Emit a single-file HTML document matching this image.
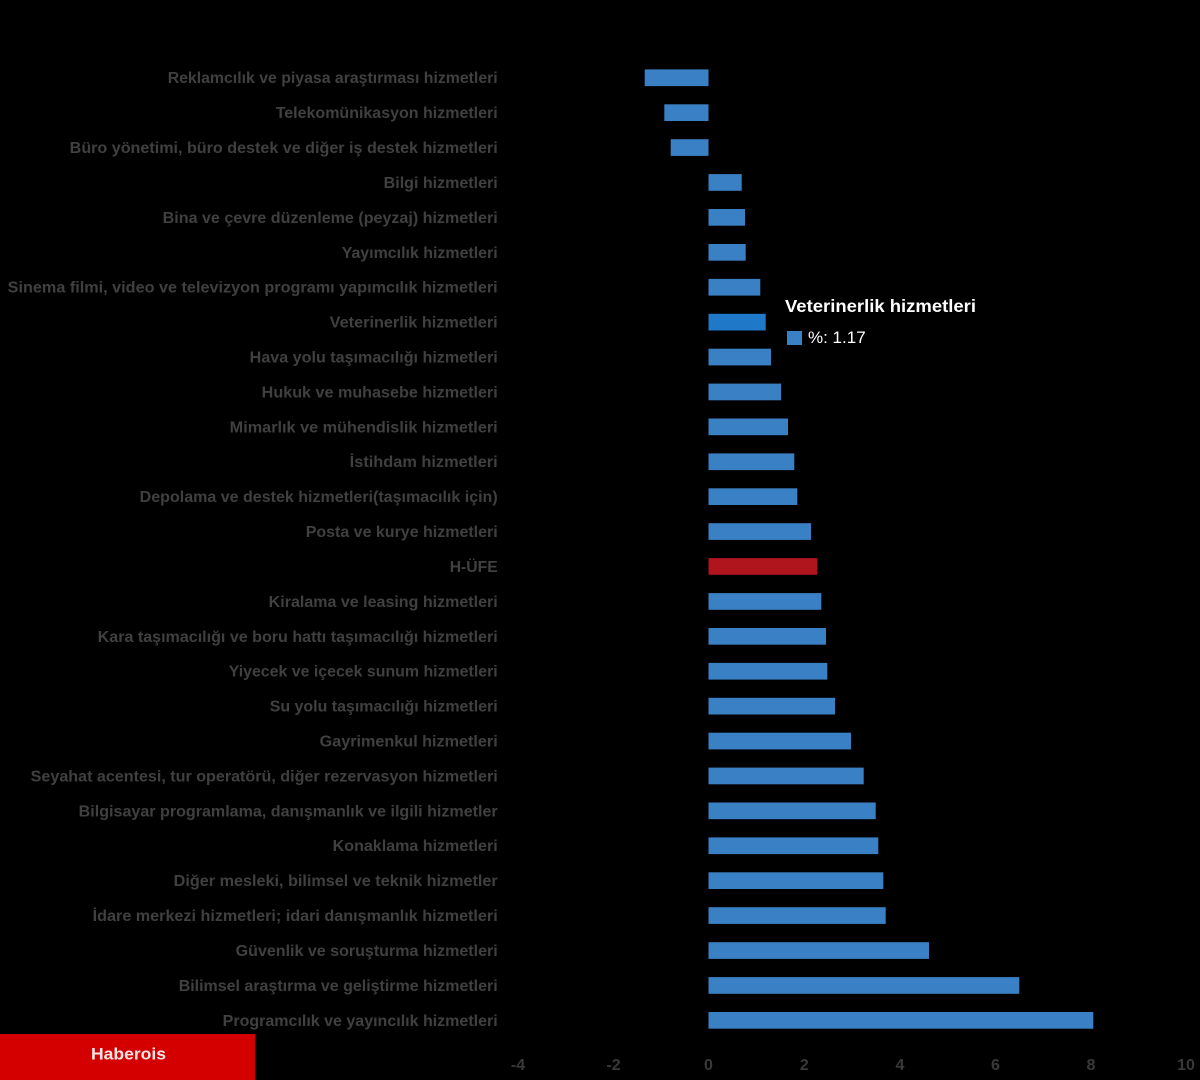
<!DOCTYPE html>
<html><head><meta charset="utf-8"><style>
html,body{margin:0;padding:0;background:#000;}
svg{display:block;}
.l{font-family:"Liberation Sans",sans-serif;font-weight:bold;font-size:16px;fill:#404040;}
.t{font-family:"Liberation Sans",sans-serif;font-weight:bold;font-size:16px;fill:#393939;}
</style></head><body>
<svg width="1200" height="1080" viewBox="0 0 1200 1080" xmlns="http://www.w3.org/2000/svg">
<rect width="1200" height="1080" fill="#000"/>
<g fill="#3a80c4">
<rect x="644.7" y="69.4" width="63.8" height="16.7"/>
<rect x="664.3" y="104.3" width="44.2" height="16.7"/>
<rect x="670.7" y="139.2" width="37.8" height="16.7"/>
<rect x="708.5" y="174.1" width="33.2" height="16.7"/>
<rect x="708.5" y="209.0" width="36.5" height="16.7"/>
<rect x="708.5" y="244.0" width="37.2" height="16.7"/>
<rect x="708.5" y="278.9" width="51.8" height="16.7"/>
<rect x="708.5" y="313.8" width="57.2" height="16.7" fill="#1f78c8"/>
<rect x="708.5" y="348.7" width="62.5" height="16.7"/>
<rect x="708.5" y="383.6" width="72.5" height="16.7"/>
<rect x="708.5" y="418.5" width="79.5" height="16.7"/>
<rect x="708.5" y="453.4" width="85.8" height="16.7"/>
<rect x="708.5" y="488.3" width="88.8" height="16.7"/>
<rect x="708.5" y="523.2" width="102.5" height="16.7"/>
<rect x="708.5" y="558.1" width="108.8" height="16.7" fill="#b0141c"/>
<rect x="708.5" y="593.1" width="112.8" height="16.7"/>
<rect x="708.5" y="628.0" width="117.5" height="16.7"/>
<rect x="708.5" y="662.9" width="118.8" height="16.7"/>
<rect x="708.5" y="697.8" width="126.5" height="16.7"/>
<rect x="708.5" y="732.7" width="142.5" height="16.7"/>
<rect x="708.5" y="767.6" width="155.2" height="16.7"/>
<rect x="708.5" y="802.5" width="167.2" height="16.7"/>
<rect x="708.5" y="837.4" width="169.8" height="16.7"/>
<rect x="708.5" y="872.3" width="174.8" height="16.7"/>
<rect x="708.5" y="907.2" width="177.2" height="16.7"/>
<rect x="708.5" y="942.2" width="220.5" height="16.7"/>
<rect x="708.5" y="977.1" width="310.8" height="16.7"/>
<rect x="708.5" y="1012.0" width="384.8" height="16.7"/>
</g>
<g class="l" text-anchor="end">
<text x="497.7" y="83.2" textLength="330" lengthAdjust="spacingAndGlyphs">Reklamcılık ve piyasa araştırması hizmetleri</text>
<text x="497.7" y="118.1" textLength="222" lengthAdjust="spacingAndGlyphs">Telekomünikasyon hizmetleri</text>
<text x="497.7" y="153.0" textLength="428" lengthAdjust="spacingAndGlyphs">Büro yönetimi, büro destek ve diğer iş destek hizmetleri</text>
<text x="497.7" y="187.9" textLength="114" lengthAdjust="spacingAndGlyphs">Bilgi hizmetleri</text>
<text x="497.7" y="222.8" textLength="335" lengthAdjust="spacingAndGlyphs">Bina ve çevre düzenleme (peyzaj) hizmetleri</text>
<text x="497.7" y="257.8" textLength="156" lengthAdjust="spacingAndGlyphs">Yayımcılık hizmetleri</text>
<text x="497.7" y="292.7" textLength="490" lengthAdjust="spacingAndGlyphs">Sinema filmi, video ve televizyon programı yapımcılık hizmetleri</text>
<text x="497.7" y="327.6" textLength="168" lengthAdjust="spacingAndGlyphs">Veterinerlik hizmetleri</text>
<text x="497.7" y="362.5" textLength="248" lengthAdjust="spacingAndGlyphs">Hava yolu taşımacılığı hizmetleri</text>
<text x="497.7" y="397.4" textLength="236" lengthAdjust="spacingAndGlyphs">Hukuk ve muhasebe hizmetleri</text>
<text x="497.7" y="432.3" textLength="268" lengthAdjust="spacingAndGlyphs">Mimarlık ve mühendislik hizmetleri</text>
<text x="497.7" y="467.2" textLength="148" lengthAdjust="spacingAndGlyphs">İstihdam hizmetleri</text>
<text x="497.7" y="502.1" textLength="358" lengthAdjust="spacingAndGlyphs">Depolama ve destek hizmetleri(taşımacılık için)</text>
<text x="497.7" y="537.0" textLength="192" lengthAdjust="spacingAndGlyphs">Posta ve kurye hizmetleri</text>
<text x="497.7" y="571.9" textLength="48" lengthAdjust="spacingAndGlyphs">H-ÜFE</text>
<text x="497.7" y="606.9" textLength="229" lengthAdjust="spacingAndGlyphs">Kiralama ve leasing hizmetleri</text>
<text x="497.7" y="641.8" textLength="400" lengthAdjust="spacingAndGlyphs">Kara taşımacılığı ve boru hattı taşımacılığı hizmetleri</text>
<text x="497.7" y="676.7" textLength="269" lengthAdjust="spacingAndGlyphs">Yiyecek ve içecek sunum hizmetleri</text>
<text x="497.7" y="711.6" textLength="228" lengthAdjust="spacingAndGlyphs">Su yolu taşımacılığı hizmetleri</text>
<text x="497.7" y="746.5" textLength="178" lengthAdjust="spacingAndGlyphs">Gayrimenkul hizmetleri</text>
<text x="497.7" y="781.4" textLength="467" lengthAdjust="spacingAndGlyphs">Seyahat acentesi, tur operatörü, diğer rezervasyon hizmetleri</text>
<text x="497.7" y="816.3" textLength="419" lengthAdjust="spacingAndGlyphs">Bilgisayar programlama, danışmanlık ve ilgili hizmetler</text>
<text x="497.7" y="851.2" textLength="165" lengthAdjust="spacingAndGlyphs">Konaklama hizmetleri</text>
<text x="497.7" y="886.1" textLength="324" lengthAdjust="spacingAndGlyphs">Diğer mesleki, bilimsel ve teknik hizmetler</text>
<text x="497.7" y="921.0" textLength="405" lengthAdjust="spacingAndGlyphs">İdare merkezi hizmetleri; idari danışmanlık hizmetleri</text>
<text x="497.7" y="956.0" textLength="262" lengthAdjust="spacingAndGlyphs">Güvenlik ve soruşturma hizmetleri</text>
<text x="497.7" y="990.9" textLength="319" lengthAdjust="spacingAndGlyphs">Bilimsel araştırma ve geliştirme hizmetleri</text>
<text x="497.7" y="1025.8" textLength="275" lengthAdjust="spacingAndGlyphs">Programcılık ve yayıncılık hizmetleri</text>
</g>
<g class="t" text-anchor="middle">
<text x="518" y="1070">-4</text>
<text x="613.5" y="1070">-2</text>
<text x="708.5" y="1070">0</text>
<text x="804.3" y="1070">2</text>
<text x="900" y="1070">4</text>
<text x="995.5" y="1070">6</text>
<text x="1091" y="1070">8</text>
<text x="1186" y="1070">10</text>
</g>
<text x="785" y="312" font-family="Liberation Sans, sans-serif" font-weight="bold" font-size="17.5" fill="#ffffff" textLength="191" lengthAdjust="spacingAndGlyphs">Veterinerlik hizmetleri</text>
<rect x="787" y="331" width="15" height="14" fill="#3a80c4"/>
<text x="808" y="343" font-family="Liberation Sans, sans-serif" font-size="17" fill="#ffffff">%: 1.17</text>
<rect x="0" y="1034" width="255" height="46" fill="#d40000"/>
<text x="91" y="1059.5" font-family="Liberation Sans, sans-serif" font-weight="bold" font-size="17" fill="#f4e6e6" textLength="75" lengthAdjust="spacingAndGlyphs">Haberois</text>
</svg>
</body></html>
